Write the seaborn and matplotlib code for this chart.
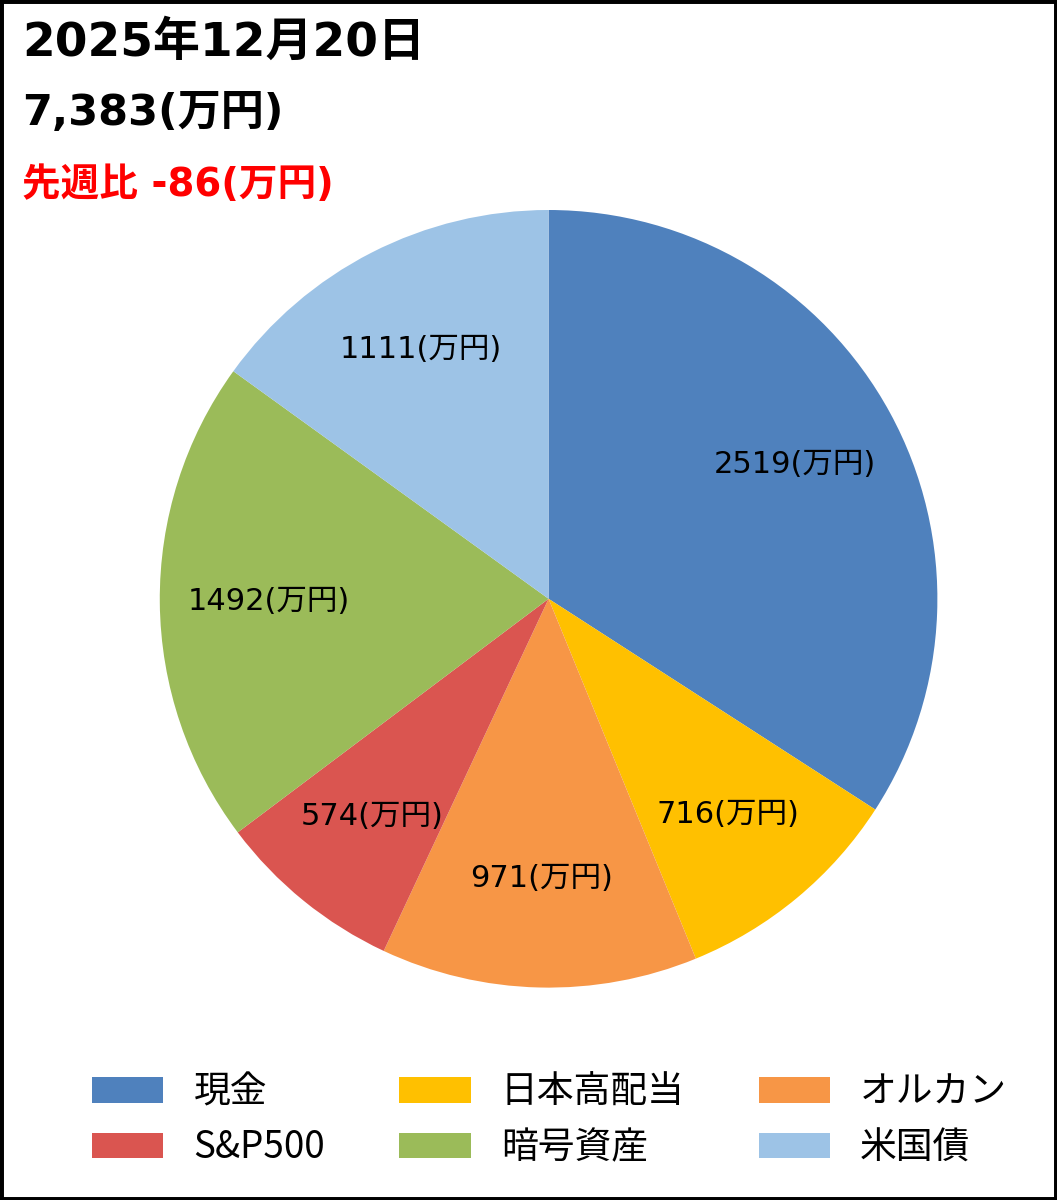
import numpy as np
import matplotlib
matplotlib.use("Agg")
import matplotlib.pyplot as plt
import matplotlib.patches as patches
import seaborn as sns

# data
categories = ["現金", "日本高配当", "オルカン", "S&P500", "暗号資産", "米国債"]
values = [2519, 716, 971, 574, 1492, 1111]
colors = ["#4F81BD", "#FFC000", "#F79646", "#DA5550", "#9BBB59", "#9DC3E6"]
date_text = "2025年12月20日"
total_text = "7,383(万円)"
diff_text = "先週比 -86(万円)"
unit = "(万円)"

sns.set_theme(style="white")
latin_first = ["DejaVu Sans", "Noto Sans CJK JP"]
plt.rcParams["font.family"] = ["Noto Sans CJK JP", "DejaVu Sans"]

fig = plt.figure(figsize=(10.57, 12.0), dpi=100)
ax = fig.add_axes([0.151, 0.177, 0.736, 0.648])

wedges, _ = ax.pie(
    values,
    colors=colors,
    startangle=90,
    counterclock=False,
    radius=1.0,
    wedgeprops=dict(linewidth=0),
)
ax.set_xlim(-1, 1)
ax.set_ylim(-1, 1)
ax.set_aspect("equal")
ax.axis("off")

# value labels inside each slice
for w, v in zip(wedges, values):
    theta = np.deg2rad((w.theta1 + w.theta2) / 2)
    r = 0.72
    ax.text(r * np.cos(theta), r * np.sin(theta), str(v) + unit,
            ha="center", va="center", fontsize=22, color="black",
            family=latin_first)

# header texts
fig.text(0.021, 0.964, date_text, fontsize=33.8, fontweight="bold",
         ha="left", va="center", color="black", family=latin_first)
fig.text(0.021, 0.906, total_text, fontsize=31, fontweight="bold",
         ha="left", va="center", color="black", family=latin_first)
fig.text(0.021, 0.846, diff_text, fontsize=27.8, fontweight="bold",
         ha="left", va="center", color="#FF0000", family=latin_first)

# legend, filled row by row
handles = [patches.Patch(facecolor=c, edgecolor="none") for c in colors]
order = [0, 3, 1, 4, 2, 5]
fig.legend(
    [handles[i] for i in order],
    [categories[i] for i in order],
    ncol=3,
    loc="center",
    bbox_to_anchor=(0.52, 0.0665),
    frameon=False,
    fontsize=26.5,
    labelcolor="black",
    handlelength=1.93,
    handleheight=0.68,
    handletextpad=0.82,
    columnspacing=2.02,
    labelspacing=0.45,
)

# outer frame
fig.patches.append(patches.Rectangle(
    (0, 0), 1, 1, transform=fig.transFigure, fill=False,
    edgecolor="black", linewidth=5, zorder=10))

fig.savefig("out.png", dpi=100)
